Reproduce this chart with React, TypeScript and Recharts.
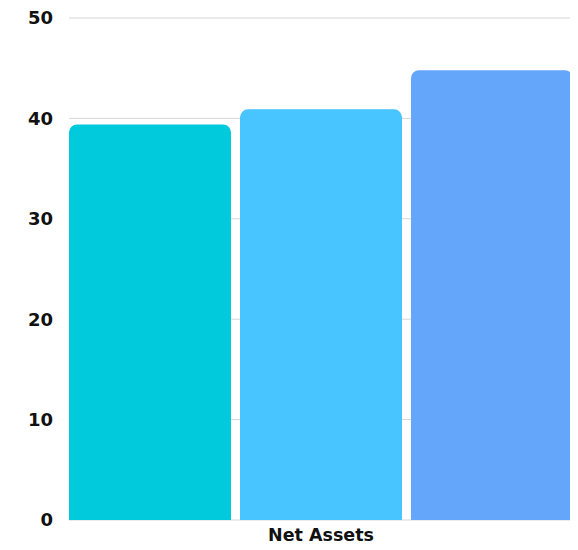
import { BarChart, Bar, XAxis, YAxis, CartesianGrid } from "recharts"

const categories = ["Net Assets"]
const seriesA = [39.4]
const seriesB = [40.9]
const seriesC = [44.8]
const yTicks = [0, 10, 20, 30, 40, 50]

const data = categories.map((name, i) => ({ name, a: seriesA[i], b: seriesB[i], c: seriesC[i] }))

const font = "'DejaVu Sans', sans-serif"

export default function App() {
  return (
    <div style={{ margin: -8, width: 578, height: 550 }}>
      <BarChart
        width={578}
        height={550}
        data={data}
        margin={{ top: 18, right: 5, bottom: 0, left: 0 }}
        barCategoryGap={0}
        barGap={9}
      >
        <CartesianGrid vertical={false} stroke="#d6d6d6" strokeWidth={1} />
        <XAxis
          dataKey="name"
          axisLine={false}
          tickLine={false}
          height={30}
          tickMargin={3}
          tick={{ fill: "#111", fontSize: 17.5, fontWeight: 700, fontFamily: font }}
        />
        <YAxis
          domain={[0, 50]}
          ticks={yTicks}
          width={69}
          axisLine={false}
          tickLine={false}
          tickMargin={10}
          tick={{ fill: "#111", fontSize: 18, fontWeight: 700, fontFamily: font }}
        />
        <Bar dataKey="a" fill="#00CADC" radius={[8, 8, 0, 0]} isAnimationActive={false} />
        <Bar dataKey="b" fill="#48C4FE" radius={[8, 8, 0, 0]} isAnimationActive={false} />
        <Bar dataKey="c" fill="#64A7FA" radius={[8, 8, 0, 0]} isAnimationActive={false} />
      </BarChart>
    </div>
  )
}
